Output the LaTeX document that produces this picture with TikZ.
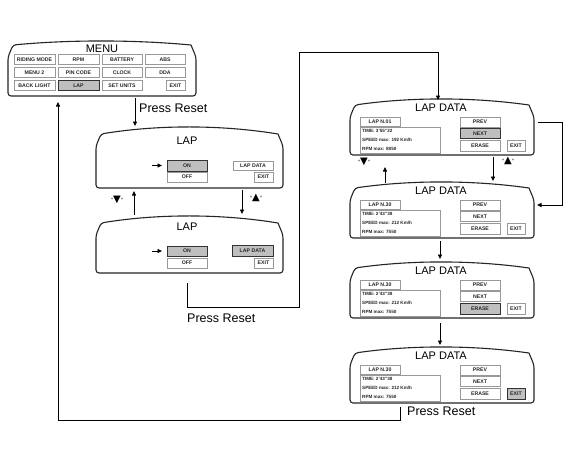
\documentclass[tikz,border=0pt]{standalone}
\usepackage{fontspec}
\setmainfont{Liberation Sans}
\newfontfamily\symf{DejaVu Sans}
\usetikzlibrary{arrows.meta,calc}

\tikzset{
 scrbox/.style={draw=none,inner sep=0,outer sep=0},
 scrline/.style={draw=black!85,line width=1.1pt,line join=round},
 btn/.style={draw=black!40,line width=0.6pt,inner sep=0,outer sep=0,text=black!85,font=\fontsize{5.2}{6}\selectfont\bfseries},
 sel/.style={draw=black!80,fill=black!25,line width=1pt},
 title/.style={font=\fontsize{11}{12}\selectfont,inner sep=0},
 lbl/.style={font=\fontsize{12.5}{13}\selectfont,inner sep=0,anchor=west},
 arr/.style={line width=0.8pt,-{Triangle[length=4.5pt,width=4pt]}},
 data/.style={font=\fontsize{4.6}{5.5}\selectfont\bfseries,text=black!85,inner sep=0,anchor=west},
 quo/.style={font=\fontsize{6}{7}\selectfont,inner sep=0},
}

% screen outline: name x1 y1 x2 y2 bulge
\newcommand\scrn[6]{%
 \node[scrbox,minimum width={((#4)-(#2))*1pt},minimum height={((#5)-(#3))*1pt}] (#1) at ({((#2)+(#4))/2},{((#3)+(#5))/2}) {};
 \draw[scrline] ($(#1.north west)+(5,#6)$) .. controls ($(#1.north west)!.33!(#1.north east)+(0,-#6/3)$) and ($(#1.north west)!.67!(#1.north east)+(0,-#6/3)$) .. ($(#1.north east)+(-5,#6)$) [rounded corners=3pt] -- ($(#1.north east)+(0,#6+12)$) -- (#1.south east) -- (#1.south west) -- ($(#1.north west)+(0,#6+12)$) -- cycle;
}
% button: [style] name x1 y1 x2 y2 text
\newcommand\bt[7][]{\node[btn,#1,minimum width={((#5)-(#3))*1pt},minimum height={((#6)-(#4))*1pt}] (#2) at ({((#3)+(#5))/2},{((#4)+(#6))/2}) {#7};}
% lap data screen
\newcommand\ld[9]{%
 \scrn{#1}{350}{#2}{534}{(#2)+56}{6}
 \node[title] (#1t) at (441,{(#2)+9}) {LAP DATA};
 \bt{#1tab}{360}{(#2)+18}{400}{(#2)+27}{#3}
 \bt{#1dat}{360}{(#2)+28}{440}{(#2)+54}{}
 \node[data] (#1da) at (362,{(#2)+32}) {TIME: #4};
 \node[data] (#1db) at (362,{(#2)+41}) {SPEED max: #5};
 \node[data] (#1dc) at (362,{(#2)+50}) {RPM max: #6};
 \bt{#1p}{460}{(#2)+18}{500}{(#2)+28}{PREV}
 \bt[#7]{#1n}{460}{(#2)+29.5}{500}{(#2)+39.5}{NEXT}
 \bt[#8]{#1e}{460}{(#2)+41}{500}{(#2)+52}{ERASE}
 \bt[#9]{#1x}{507}{(#2)+41}{525}{(#2)+52}{EXIT}
}
\newcommand\qdown{"{\fontsize{10}{10}\symf ▼}"}
\newcommand\qup{"{\fontsize{10}{10}\symf ▲}"}

\begin{document}
\begin{tikzpicture}[x=1pt,y=-1pt]
\useasboundingbox[fill=white] (0,0) rectangle (573,459);

% MENU
\scrn{menu}{8}{41}{196}{96}{4}
\node[title] (menut) at (102,48.5) {MENU};
\bt{m11}{14}{54.5}{55}{64.5}{RIDING MODE}
\bt{m12}{58}{54.5}{99}{64.5}{RPM}
\bt{m13}{102}{54.5}{142}{64.5}{BATTERY}
\bt{m14}{145}{54.5}{185}{64.5}{ABS}
\bt{m21}{14}{67.5}{55}{77.5}{MENU 2}
\bt{m22}{58}{67.5}{99}{77.5}{PIN CODE}
\bt{m23}{102}{67.5}{142}{77.5}{CLOCK}
\bt{m24}{145}{67.5}{185}{77.5}{DDA}
\bt{m31}{14}{80.5}{55}{90.5}{BACK LIGHT}
\bt[sel]{m32}{58}{80.5}{99}{90.5}{LAP}
\bt{m33}{102}{80.5}{142}{90.5}{SET UNITS}
\bt{m34}{166}{80.5}{185}{90.5}{EXIT}

% LAP 1
\scrn{lap1}{96}{127}{283}{188}{7}
\node[title] (lap1t) at (187,141) {LAP};
\bt[sel]{l1on}{167}{160}{207}{171}{ON}
\bt{l1off}{167}{172}{207}{182}{OFF}
\bt{l1ld}{233}{161}{273}{170}{LAP DATA}
\bt{l1ex}{254}{172}{273}{182}{EXIT}
\coordinate (l1a) at (152,165.5);
\draw[arr] (l1a) -- ([xshift=-5pt]l1on.west);

% LAP 2
\scrn{lap2}{96}{216}{283}{273}{7}
\node[title] (lap2t) at (187,226.5) {LAP};
\bt[sel]{l2on}{167}{246}{207}{256}{ON}
\bt{l2off}{167}{258}{207}{268}{OFF}
\bt[sel]{l2ld}{232}{245}{273}{256}{LAP DATA}
\bt{l2ex}{254}{258}{273}{268}{EXIT}
\coordinate (l2a) at (152,251);
\draw[arr] (l2a) -- ([xshift=-5pt]l2on.west);

% LAP DATA screens
\ld{ldA}{99}{LAP N.01}{3'55"22}{192 Km/h}{8850}{sel}{}{}
\ld{ldB}{182}{LAP N.30}{2'43"38}{212 Km/h}{7550}{}{}{}
\ld{ldC}{262}{LAP N.30}{2'43"38}{212 Km/h}{7550}{}{sel}{}
\ld{ldD}{347}{LAP N.30}{2'43"38}{212 Km/h}{7550}{}{}{sel}

% connectors
\coordinate (c1b) at (135,126);
\draw[arr] ([yshift=-2pt]menu.south -| c1b) -- (c1b);
\node[lbl] (pr1) at (139,108) {Press Reset};

\coordinate (u1) at (134,215);
\draw[arr,shorten >=3pt] (u1) -- (u1 |- lap1.south);
\node[quo] (q1) at (117,200) {\qdown};
\coordinate (d1) at (242,190);
\draw[arr,shorten >=2pt] (d1) -- (d1 |- lap2.north);
\node[quo] (q2) at (256,198) {\qup};

\coordinate (p2a) at (187,283);
\coordinate (p2b) at (299,307);
\coordinate (p2c) at (299,52);
\draw[arr] (p2a) |- (p2b) |- (p2c) -| ([xshift=-4pt,yshift=-1pt]ldA.north);
\node[lbl] (pr2) at (187,318) {Press Reset};

\coordinate (u2) at (385,183);
\coordinate (u2b) at (385,167);
\draw[arr] (u2) -- (u2b);
\node[quo] (q3) at (364,162) {\qdown};
\coordinate (d2) at (493,157);
\draw[arr,shorten >=1pt] (d2) -- (d2 |- ldB.north);
\node[quo] (q4) at (508,161) {\qup};

\coordinate (r1) at (538,122);
\coordinate (r2) at (562,205);
\draw[arr,shorten >=3pt] (r1) -| (r2) -- (ldB.east |- r2);

\coordinate (v1) at (440,241);
\draw[arr,shorten >=3pt] (v1) -- (v1 |- ldC.north);
\coordinate (v2) at (440,323);
\draw[arr,shorten >=2pt] (v2) -- (v2 |- ldD.north);

\coordinate (p3a) at (400,407);
\coordinate (p3b) at (58,420);
\draw[arr,shorten >=6pt] (p3a) |- (p3b) -- (p3b |- menu.south);
\node[lbl] (pr3) at (407,411) {Press Reset};
\end{tikzpicture}
\end{document}
